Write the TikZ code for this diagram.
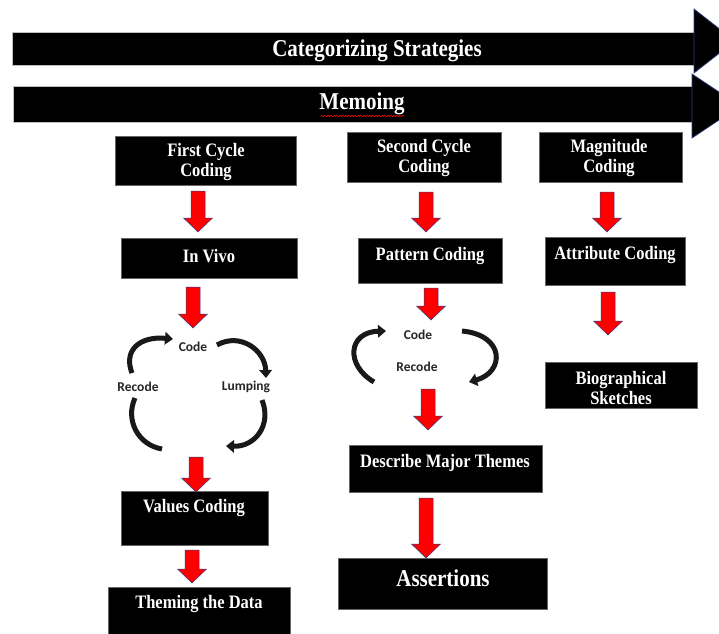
\documentclass[tikz,border=0pt]{standalone}
\usepackage{graphicx}
\usepackage{fontspec}
\setmainfont{Liberation Serif}
\newfontfamily\carl{Carlito}
\usetikzlibrary{fit,calc,arrows.meta,decorations.pathmorphing}
\definecolor{edgeblue}{RGB}{50,60,130}
\newcommand\vs[1]{\scalebox{1}[1.15]{#1}}
\newcommand\redarrow[2]{%
  \path[redarr] let \p1=(#1), \p2=(#2) in
  (\x1-7pt,\y1) -- (\x1+7pt,\y1) -- (\x1+7pt,\y2+14pt) -- (\x1+14.5pt,\y2+14pt)
  -- (\x1,\y2) -- (\x1-14.5pt,\y2+14pt) -- (\x1-7pt,\y2+14pt) -- cycle;}
\begin{document}
\begin{tikzpicture}[x=1pt,y=-1pt,
  blackbox/.style={fill=black, draw=black!60, line width=0.4pt, inner sep=0pt},
  bannerbox/.style={fill=black, draw=gray!50, line width=0.5pt, inner sep=0pt},
  headshape/.style={fill=black, draw=edgeblue, line width=0.7pt},
  boxtext/.style={text=white, font=\bfseries\fontsize{16.5}{20}\selectfont, align=center, inner sep=0pt},
  bigtext/.style={text=white, font=\bfseries\fontsize{21}{24}\selectfont, inner sep=0pt},
  cyctext/.style={font=\carl\bfseries\fontsize{13.5}{15}\selectfont, text=black!85, inner sep=0pt},
  cycarrow/.style={line width=5pt, black!90, -{Triangle[length=8pt,width=12.5pt]}},
  cycarc/.style={line width=5pt, black!90},
  redarr/.style={fill=red, draw=edgeblue, line width=0.5pt}]
\useasboundingbox (0,0) rectangle (719,633);
\clip (0,0) rectangle (719,633);

% banners
\node[bannerbox, fit={(12,32) (694,65)}] (cat) {};
\path[headshape] (694,9) -- (735,41) -- (694,73) -- cycle;
\node[bigtext] (catt) at (377,51) {\vs{Categorizing Strategies}};
\node[bannerbox, fit={(13,86) (692,122)}] (memo) {};
\path[headshape] (692,74) -- (740,106) -- (692,138) -- cycle;
\node[bigtext] (memot) at (362,104) {\vs{Memoing}};
\draw[red, line width=0.5pt, decorate, decoration={snake, amplitude=0.8pt, segment length=3pt}] (321,116) -- (404,116);

% column 1
\node[blackbox, fit={(115,136) (296,185)}] (fc) {};
\node[boxtext] at (206,162) {\vs{First Cycle}\\\vs{Coding}};
\node[blackbox, fit={(121,238) (297,278)}] (iv) {};
\node[boxtext] at (209,256) {\vs{In Vivo}};
\node[blackbox, fit={(121,491) (268,545)}] (vc) {};
\node[boxtext] at (194,508) {\vs{Values Coding}};
\node[blackbox, fit={(108,587) (290,640)}] (td) {};
\node[boxtext] at (199,604) {\vs{Theming the Data}};

% column 2
\node[blackbox, fit={(347,132) (501,182)}] (sc) {};
\node[boxtext] at (424,158) {\vs{Second Cycle}\\\vs{Coding}};
\node[blackbox, fit={(358,238) (502,283)}] (pc) {};
\node[boxtext] at (430,256) {\vs{Pattern Coding}};
\node[blackbox, fit={(349,445) (542,492)}] (dm) {};
\node[boxtext] at (445,463) {\vs{Describe Major Themes}};
\node[blackbox, fit={(338,558) (547,609)}] (as) {};
\node[bigtext] at (443,578) {\vs{Assertions}};

% column 3
\node[blackbox, fit={(539,132) (682,182)}] (mc) {};
\node[boxtext] at (609,158) {\vs{Magnitude}\\\vs{Coding}};
\node[blackbox, fit={(545,237) (685,285)}] (ac) {};
\node[boxtext] at (615,255) {\vs{Attribute Coding}};
\node[blackbox, fit={(545,362) (697,408)}] (bs) {};
\node[boxtext] at (621,388) {\vs{Biographical}\\\vs{Sketches}};

% red arrows
\coordinate (a1s) at (198,191); \coordinate (a1e) at (198,232);
\coordinate (a2s) at (193,287); \coordinate (a2e) at (193,328);
\coordinate (a3s) at (196,457); \coordinate (a3e) at (196,492);
\coordinate (a4s) at (192,550); \coordinate (a4e) at (192,583);
\coordinate (a5s) at (426,192); \coordinate (a5e) at (426,232);
\coordinate (a6s) at (431,288); \coordinate (a6e) at (431,320);
\coordinate (a7s) at (428,389); \coordinate (a7e) at (428,430);
\coordinate (a8s) at (426,498); \coordinate (a8e) at (426,558);
\coordinate (a9s) at (607,192); \coordinate (a9e) at (607,232);
\coordinate (a10s) at (608,292); \coordinate (a10e) at (608,335);
\redarrow{a1s}{a1e}
\redarrow{a2s}{a2e}
\redarrow{a3s}{a3e}
\redarrow{a4s}{a4e}
\redarrow{a5s}{a5e}
\redarrow{a6s}{a6e}
\redarrow{a7s}{a7e}
\redarrow{a8s}{a8e}
\redarrow{a9s}{a9e}
\redarrow{a10s}{a10e}

% cycle 1
\node[cyctext] (c1code) at (193,347) {Code};
\node[cyctext] (c1rec) at (138,387) {Recode};
\node[cyctext] (c1lum) at (246,387) {Lumping};
\draw[cycarrow] (132,373) .. controls (123,350) and (140,336) .. (173,339);
\draw[cycarrow] (217,345) .. controls (240,332) and (265,350) .. (266,378);
\draw[cycarrow] (262,400) .. controls (272,425) and (255,447) .. (226,446);
\draw[cycarc] (135,398) .. controls (125,420) and (138,445) .. (162,449);

% cycle 2
\node[cyctext] (c2code) at (418,335) {Code};
\node[cyctext] (c2rec) at (417,367) {Recode};
\draw[cycarrow] (374,382) .. controls (345,365) and (348,332) .. (386,331);
\draw[cycarrow] (462,331) .. controls (505,335) and (505,372) .. (469,382);
\end{tikzpicture}
\end{document}
